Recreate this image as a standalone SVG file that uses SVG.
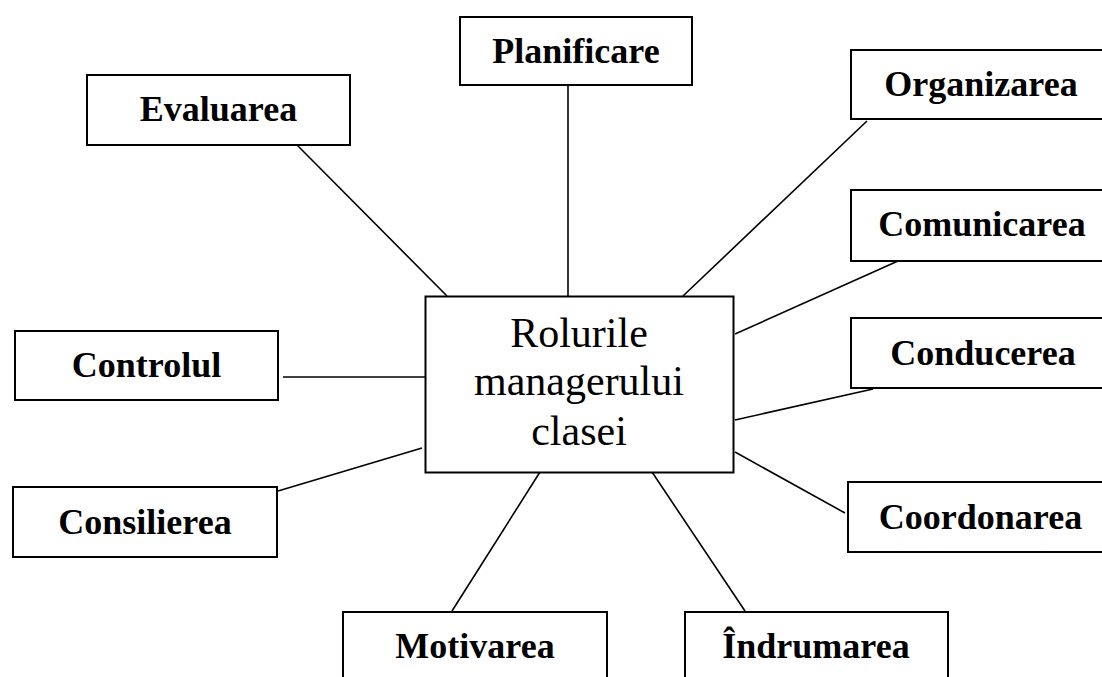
<svg xmlns="http://www.w3.org/2000/svg" width="1102" height="677" viewBox="0 0 1102 677">
<style>
.box{fill:#fff;stroke:#000;stroke-width:2}
.lbl{font-family:"Liberation Serif","Times New Roman",serif;font-weight:bold;font-size:36px;fill:#000;text-anchor:middle}
.ctr{font-family:"Liberation Serif","Times New Roman",serif;font-size:42px;fill:#000;text-anchor:middle}
.conn line{stroke:#000;stroke-width:1.6}
</style>
<rect width="1102" height="677" fill="#fff"/>
<g id="connectors" class="conn">
<line x1="568" y1="85" x2="568" y2="296"/>
<line x1="297" y1="145" x2="447" y2="296"/>
<line x1="867" y1="121" x2="683" y2="296"/>
<line x1="898" y1="261" x2="735" y2="334"/>
<line x1="873" y1="389" x2="735" y2="420"/>
<line x1="845" y1="513" x2="735" y2="452"/>
<line x1="283" y1="377" x2="425" y2="377"/>
<line x1="278" y1="491" x2="422" y2="448"/>
<line x1="540" y1="472" x2="452" y2="611"/>
<line x1="652" y1="472" x2="745" y2="611"/>
</g>
<g id="center">
<rect class="box" x="425.5" y="296.5" width="308" height="176"/>
<text class="ctr" x="579" y="347">Rolurile</text>
<text class="ctr" x="579" y="395">managerului</text>
<text class="ctr" x="579" y="445">clasei</text>
</g>
<g id="planificare">
<rect class="box" x="460" y="17" width="232" height="68"/>
<text class="lbl" x="576" y="63">Planificare</text>
</g>
<g id="evaluarea">
<rect class="box" x="87" y="75" width="263" height="70"/>
<text class="lbl" x="218.5" y="121">Evaluarea</text>
</g>
<g id="organizarea">
<rect class="box" x="851" y="50" width="262" height="69"/>
<text class="lbl" x="981" y="96">Organizarea</text>
</g>
<g id="comunicarea">
<rect class="box" x="851" y="190" width="262" height="71"/>
<text class="lbl" x="982" y="236">Comunicarea</text>
</g>
<g id="conducerea">
<rect class="box" x="851" y="318" width="262" height="70"/>
<text class="lbl" x="983" y="365">Conducerea</text>
</g>
<g id="coordonarea">
<rect class="box" x="848" y="482" width="262" height="70"/>
<text class="lbl" x="980.5" y="529">Coordonarea</text>
</g>
<g id="controlul">
<rect class="box" x="15" y="331" width="263" height="69"/>
<text class="lbl" x="146.5" y="377">Controlul</text>
</g>
<g id="consilierea">
<rect class="box" x="13" y="487" width="264" height="70"/>
<text class="lbl" x="145" y="534">Consilierea</text>
</g>
<g id="motivarea">
<rect class="box" x="343" y="612" width="264" height="80"/>
<text class="lbl" x="475" y="658">Motivarea</text>
</g>
<g id="indrumarea">
<rect class="box" x="685" y="612" width="263" height="80"/>
<text class="lbl" x="816" y="658">Îndrumarea</text>
</g>
</svg>
